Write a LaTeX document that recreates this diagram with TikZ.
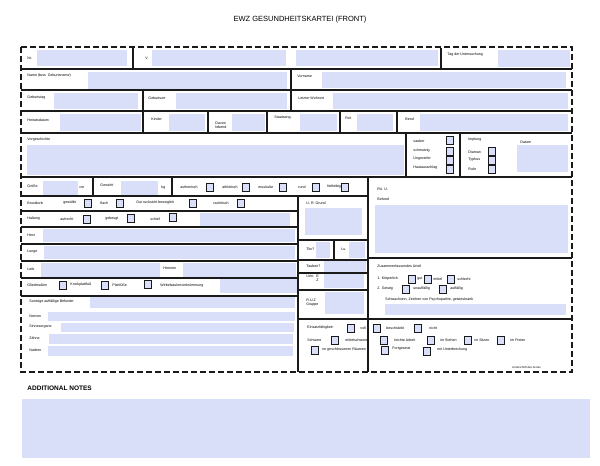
\documentclass[tikz,border=0pt]{standalone}
\usepackage{fontspec}
\setmainfont{Liberation Sans}
\definecolor{fieldc}{HTML}{D9DFF8}
\definecolor{linec}{HTML}{1A1A1A}
\newcommand{\fld}[4]{\fill[fieldc] (#1,#2) rectangle (#3,#4);}
\newcommand{\lbl}[3]{\node[anchor=west,inner sep=0pt,font=\fontsize{3.6}{4.2}\selectfont,align=left] at (#1,#2) {#3};}
\newcommand{\cbx}[2]{\draw[fieldbox] (#1-3.5,#2-4) rectangle (#1+3.5,#2+4);}
\begin{document}
\begin{tikzpicture}[x=1pt,y=-1pt,line width=0.9pt,
  fieldbox/.style={fill=fieldc,draw=linec,line width=0.9pt},
  rule/.style={draw=linec,line width=1.1pt}]
\useasboundingbox (0,0) rectangle (600,466);
\node[font=\fontsize{7.5}{9}\selectfont] (title) at (300,20) {EWZ GESUNDHEITSKARTEI (FRONT)};
% row 1
\lbl{27}{58}{Nr.}\fld{37}{50}{127}{66}
\lbl{145}{58}{V}\fld{152}{50}{286}{66}\fld{296}{50}{438}{66}
\lbl{447}{55}{Tag der Untersuchung}\fld{498}{50}{570}{67}
% row 2
\lbl{27}{76}{Name (bzw. Geburtsname)}\fld{88}{72}{287}{89}
\lbl{297}{76}{Vorname}\fld{322}{72}{566}{88}
% row 3
\lbl{27}{98}{Geburtstag}\fld{54}{93}{138}{109}
\lbl{148}{98}{Geburtsort}\fld{176}{93}{287}{109}
\lbl{298}{98}{Letzter Wohnort}\fld{333}{93}{568}{109}
% row 4
\lbl{27}{120}{Heiratsdatum}\fld{60}{114}{141}{131}
\lbl{151}{119}{Kinder}\fld{169}{114}{205}{131}
\lbl{215}{125}{Davon\\lebend}\fld{232}{114}{265}{131}
\lbl{274}{118}{Staatsang.}\fld{300}{114}{337}{131}
\lbl{345}{118}{Rel.}\fld{357}{114}{393}{131}
\lbl{405}{119}{Beruf}\fld{420}{114}{568}{131}
% row 5
\lbl{27}{140}{Vorgeschichte}\fld{27}{145}{404}{175}
\lbl{413}{141}{sauber}\cbx{450}{140}
\lbl{413}{151}{schmutzig}\cbx{450}{151}
\lbl{413}{159}{Ungeziefer}\cbx{450}{160}
\lbl{413}{168}{Hautausschlag}\cbx{450}{169}
\lbl{468}{140}{Impfung}\lbl{468}{152}{Diaman}\lbl{468}{160}{Typhus}\lbl{468}{169}{Ruhr}
\cbx{492}{151}\cbx{492}{160}\cbx{492}{169}
\lbl{520}{142}{Datum}\fld{517}{145}{568}{172}
% row 6
\lbl{27}{186}{Größe}\fld{43}{181}{78}{195}\lbl{79}{188}{cm}
\lbl{100}{185}{Gewicht}\fld{121}{181}{158}{195}\lbl{161}{188}{kg}
\lbl{180}{187}{asthenisch}\cbx{210}{187}
\lbl{222}{187}{athletisch}\cbx{246}{187}
\lbl{258}{187}{muskulär}\cbx{283}{187}
\lbl{298}{187}{rund}\cbx{316}{187}
\lbl{327}{187}{fettleibig}\cbx{345}{187}
% right top
\lbl{377}{189}{Rö. U.}\lbl{377}{199}{Befund}\fld{375}{205}{568}{253}
% row 7
\lbl{27}{203}{Brustkorb}\lbl{63}{203}{gewölbt}\cbx{88}{203}
\lbl{100}{203}{flach}\cbx{120}{203}
\lbl{136}{203}{Gut rucksicht beweglich}\cbx{193}{203}
\lbl{213}{203}{rachitisch}\cbx{241}{203}
% row 8
\lbl{27}{219}{Haltung}\lbl{60}{219}{aufrecht}\cbx{87}{219}
\lbl{105}{219}{gebeugt}\cbx{131}{218}
\lbl{150}{219}{schief}\cbx{173}{217}\fld{200}{213}{290}{226}
% rows 9-11
\lbl{27}{235}{Herz}\fld{43}{229}{295}{242}
\lbl{27}{252}{Lunge}\fld{44}{246}{295}{259}
\lbl{27}{269}{Leib}\fld{41}{263}{160}{277}\lbl{163}{268}{Hernien}\fld{183}{263}{296}{277}
% row 12
\lbl{27}{285}{Gliedmaßen}\cbx{63}{285}\lbl{70}{285}{Knickplattfuß}\cbx{105}{285}
\lbl{112}{285}{Plattfüße}\cbx{148}{284}\lbl{160}{286}{Wirbelsäulenverkrümmung}\fld{220}{279}{297}{293}
% row 13
\lbl{29}{302}{Sonstige auffällige Befunde:}\fld{90}{296}{295}{308}
\lbl{29}{316}{Nerven}\fld{48}{312}{295}{321}
\lbl{29}{327}{Sinnesorgane}\fld{61}{323}{294}{332}
\lbl{29}{338}{Zähne}\fld{49}{334}{293}{344}
\lbl{29}{350}{Narben}\fld{48}{346}{293}{356}
% middle column
\lbl{306}{203}{U. R. Grund}\fld{305}{208}{362}{235}
\lbl{306}{249}{Tbc?}\fld{316}{242}{330}{258}\lbl{341}{249}{Lu.}\fld{349}{242}{365}{258}
\lbl{306}{266}{Tauben?}\fld{324}{260}{366}{272}
\lbl{306}{278}{Urin: \ E\\\hspace*{10pt}Z}\fld{324}{274}{364}{288}
\lbl{306}{303}{R.U.Z\\Gruppe}\fld{325}{292}{364}{314}
% right middle
\lbl{377}{266}{Zusammenfassendes Urteil}
\lbl{377}{279}{1. Körperlich}\cbx{412}{279}\lbl{417}{279}{gut}\cbx{428}{279}\lbl{433}{279}{mittel}\cbx{451}{279}\lbl{457}{279}{schlecht}
\lbl{377}{289}{2. Geistig}\cbx{406}{289}\lbl{413}{289}{unauffällig}\cbx{443}{289}\lbl{450}{289}{auffällig}
\lbl{385}{300}{Schwachsinn, Zeichen von Psychopathie, geisteskrank}\fld{385}{304}{566}{315}
% bottom
\lbl{307}{328}{Einsatzfähigkeit:}\cbx{351}{328}\lbl{360}{328}{voll}\cbx{377}{328}\lbl{386}{328}{beschränkt}\cbx{418}{328}\lbl{429}{328}{nicht}
\lbl{307}{340}{Schwere}\cbx{335}{340}\lbl{345}{340}{mittelschwere}\cbx{384}{340}\lbl{394}{340}{leichte Arbeit}\cbx{431}{340}\lbl{440}{340}{im Stehen}\cbx{468}{340}\lbl{474}{340}{im Sitzen}\cbx{501}{340}\lbl{510}{340}{im Freien}
\cbx{315}{350}\lbl{322}{350}{im geschlossenen Räumen}\cbx{385}{350}\lbl{392}{349}{Fortgesetzt}\cbx{427}{351}\lbl{437}{350}{mit Unterbrechung}
\node[anchor=west,inner sep=0pt,font=\fontsize{2.8}{3}\selectfont] (sig) at (512,367) {Unterschrift des Arztes};
% rules
\draw[rule] (21,69)--(572,69) (21,90)--(572,90) (21,111)--(572,111) (21,133)--(572,133)
 (21,177)--(572,177) (21,196)--(368,196) (21,211)--(298,211) (21,227)--(298,227)
 (21,244)--(298,244) (21,261)--(298,261) (21,278)--(298,278) (21,296)--(298,296)
 (368,178)--(368,372) (298,196)--(298,372) (298,240)--(368,240) (334,240)--(334,260)
 (298,260)--(368,260) (298,273)--(368,273) (298,290)--(368,290) (368,258)--(572,258)
 (298,319)--(572,319)
 (133,48)--(133,69) (441,48)--(441,69) (291,69)--(291,111) (143,90)--(143,133)
 (208,111)--(208,133) (267,111)--(267,133) (340,111)--(340,133) (397,111)--(397,133)
 (406,133)--(406,177) (460,133)--(460,177) (93,177)--(93,196) (172,177)--(172,196);
\draw[draw=linec,line width=1.1pt,dash pattern=on 6pt off 3pt] (21,47) rectangle (572,372);
% notes
\node[anchor=west,inner sep=0pt,font=\bfseries\fontsize{6.5}{8}\selectfont] (notes) at (27,388) {ADDITIONAL NOTES};
\fld{22}{399}{590}{458}
\end{tikzpicture}
\end{document}
